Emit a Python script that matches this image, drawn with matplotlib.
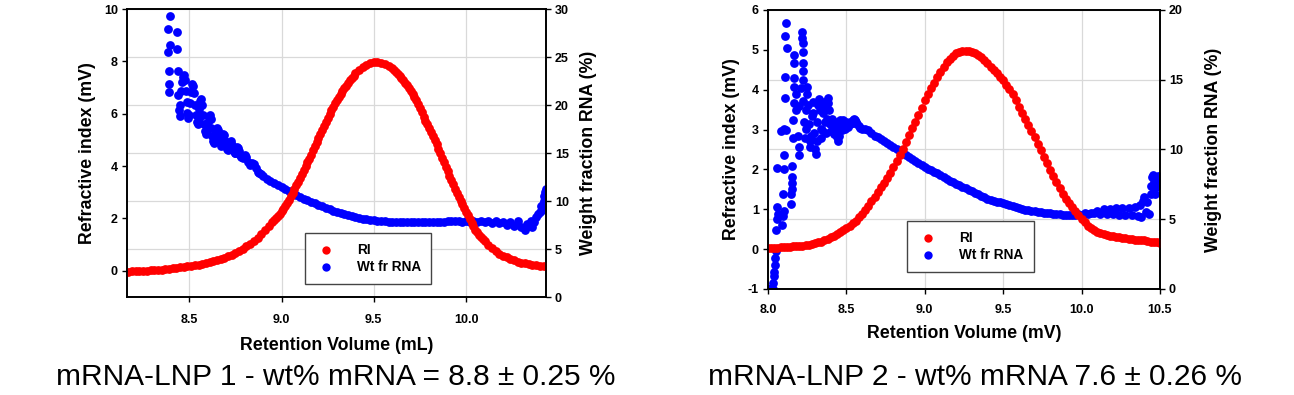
import matplotlib
matplotlib.use("Agg")
import matplotlib.pyplot as plt

plt.rcParams["font.family"] = ["Liberation Sans", "DejaVu Sans"]
plt.rcParams["font.weight"] = "bold"
plt.rcParams["axes.labelweight"] = "bold"
plt.rcParams["axes.unicode_minus"] = False

# =========================
# Data
# =========================
# mRNA-LNP 1, refractive index trace (mV) vs retention volume (mL)
lnp1_ri_vol = [
    8.17, 8.19, 8.21, 8.23, 8.25, 8.27, 8.29, 8.31, 8.33, 8.35,
    8.37, 8.39, 8.41, 8.43, 8.45, 8.47, 8.49, 8.51, 8.53, 8.55,
    8.57, 8.59, 8.61, 8.63, 8.65, 8.67, 8.69, 8.71, 8.73, 8.75,
    8.77, 8.79, 8.81, 8.83, 8.85, 8.87, 8.89, 8.91, 8.93, 8.95,
    8.96, 8.97, 8.98, 8.99, 9.00, 9.01, 9.02, 9.03, 9.04, 9.05,
    9.06, 9.07, 9.08, 9.09, 9.10, 9.11, 9.12, 9.13, 9.14, 9.15,
    9.16, 9.17, 9.18, 9.19, 9.20, 9.21, 9.22, 9.23, 9.24, 9.25,
    9.26, 9.27, 9.28, 9.29, 9.30, 9.31, 9.32, 9.33, 9.34, 9.35,
    9.36, 9.37, 9.38, 9.39, 9.40,
    9.42, 9.44, 9.46, 9.48, 9.50, 9.52, 9.54, 9.56, 9.58, 9.60,
    9.61, 9.62, 9.63, 9.64, 9.65, 9.66, 9.67, 9.68, 9.69, 9.70,
    9.71, 9.72, 9.73, 9.74, 9.75, 9.76, 9.77, 9.78, 9.79, 9.80,
    9.81, 9.82, 9.83, 9.84, 9.85, 9.86, 9.87, 9.88, 9.89, 9.90,
    9.91, 9.92, 9.93, 9.94, 9.95, 9.96, 9.97, 9.98, 9.99, 10.00,
    10.01, 10.02, 10.03, 10.04, 10.05, 10.06, 10.07, 10.08, 10.09, 10.10,
    10.12, 10.14, 10.16, 10.18, 10.20, 10.22, 10.24, 10.26, 10.28, 10.30,
    10.32, 10.34, 10.36, 10.38, 10.40, 10.42,
]
lnp1_ri_mv = [
    -0.03, -0.02, -0.01, 0.00, 0.00, 0.01, 0.02, 0.03, 0.04, 0.05,
    0.07, 0.08, 0.10, 0.11, 0.13, 0.15, 0.17, 0.19, 0.21, 0.24,
    0.27, 0.30, 0.33, 0.37, 0.41, 0.45, 0.50, 0.55, 0.61, 0.68,
    0.76, 0.84, 0.93, 1.03, 1.14, 1.27, 1.41, 1.56, 1.72, 1.88,
    1.95, 2.02, 2.10, 2.18, 2.27, 2.37, 2.48, 2.59, 2.71, 2.84,
    2.98, 3.12, 3.26, 3.40, 3.54, 3.69, 3.84, 3.99, 4.14, 4.29,
    4.44, 4.60, 4.76, 4.92, 5.07, 5.23, 5.38, 5.53, 5.68, 5.83,
    5.98, 6.13, 6.27, 6.40, 6.52, 6.63, 6.75, 6.86, 6.97, 7.07,
    7.17, 7.27, 7.37, 7.46, 7.54,
    7.67, 7.79, 7.88, 7.94, 7.97, 7.97, 7.95, 7.91, 7.84, 7.74,
    7.67, 7.60, 7.53, 7.45, 7.37, 7.29, 7.19, 7.08, 6.97, 6.86,
    6.76, 6.65, 6.51, 6.36, 6.20, 6.05, 5.89, 5.74, 5.59, 5.45,
    5.30, 5.15, 5.00, 4.83, 4.66, 4.49, 4.32, 4.15, 3.98, 3.81,
    3.64, 3.47, 3.30, 3.13, 2.96, 2.82, 2.68, 2.54, 2.40, 2.26,
    2.12, 1.98, 1.84, 1.70, 1.57, 1.47, 1.38, 1.30, 1.21, 1.13,
    0.99, 0.87, 0.76, 0.66, 0.58, 0.51, 0.45, 0.40, 0.35, 0.31,
    0.28, 0.25, 0.23, 0.21, 0.19, 0.17,
]

# mRNA-LNP 1, weight fraction RNA (%)
lnp1_wt_vol = [
    8.392, 8.392, 8.392, 8.386, 8.386, 8.398, 8.398, 8.435, 8.435, 8.437,
    8.440, 8.444, 8.448, 8.452, 8.456, 8.460, 8.465, 8.470, 8.475, 8.480,
    8.485, 8.490, 8.495, 8.500, 8.505, 8.510, 8.515, 8.520, 8.525, 8.530,
    8.535, 8.540, 8.545, 8.550, 8.555, 8.560, 8.565, 8.570, 8.575, 8.580,
    8.585, 8.590, 8.595, 8.600, 8.605, 8.610, 8.615, 8.620, 8.625, 8.630,
    8.635, 8.640, 8.645, 8.650, 8.655, 8.660, 8.665, 8.670, 8.675, 8.680,
    8.685, 8.690, 8.695, 8.700, 8.705, 8.710, 8.715, 8.720, 8.725, 8.730,
    8.735, 8.740, 8.745, 8.750, 8.755, 8.760, 8.765, 8.770, 8.775, 8.780,
    8.790, 8.800, 8.810, 8.820, 8.830, 8.840, 8.850, 8.860, 8.870, 8.880,
    8.890,
    8.90, 8.92, 8.94, 8.96, 8.98, 9.00, 9.02, 9.04, 9.06, 9.08,
    9.10, 9.12, 9.14, 9.16, 9.18, 9.20, 9.22, 9.24, 9.26, 9.28,
    9.30, 9.32, 9.34, 9.36, 9.38, 9.40, 9.42, 9.44, 9.46, 9.48,
    9.50, 9.52, 9.54, 9.56, 9.58, 9.60, 9.62, 9.64, 9.66, 9.68,
    9.70, 9.72, 9.74, 9.76, 9.78, 9.80, 9.82, 9.84, 9.86, 9.88,
    9.90, 9.92, 9.94, 9.96, 9.98, 10.00, 10.02, 10.04, 10.06, 10.08,
    10.10, 10.12, 10.14, 10.16, 10.18, 10.20, 10.22, 10.24, 10.26, 10.28,
    10.30, 10.32, 10.33, 10.34, 10.35, 10.36, 10.37, 10.38, 10.39, 10.40,
    10.405, 10.41, 10.415, 10.42, 10.425, 10.43, 10.432, 10.434, 10.436,
]
lnp1_wt_pct = [
    21.4, 22.2, 23.5, 25.5, 27.9, 26.2, 29.3, 27.6, 25.8, 23.5,
    21.0, 19.5, 18.9, 20.0, 21.5, 22.4, 22.9, 23.1, 22.6, 21.5,
    20.3, 19.2, 18.6, 19.0, 20.2, 21.4, 22.2, 22.0, 21.2, 20.0,
    19.0, 18.2, 18.0, 18.6, 19.6, 20.4, 20.6, 20.0, 19.0, 18.0,
    17.3, 17.0, 17.4, 18.2, 18.8, 19.0, 18.5, 17.6, 16.8, 16.2,
    16.0, 16.5, 17.2, 17.6, 17.4, 16.8, 16.1, 15.7, 15.9, 16.5,
    17.0, 16.9, 16.3, 15.7, 15.4, 15.3, 15.6, 16.1, 16.2, 15.8,
    15.4, 15.2, 15.0, 15.0, 15.3, 15.6, 15.5, 15.2, 14.8, 14.6,
    14.5, 14.8, 14.6, 14.1, 13.8, 14.0, 13.9, 13.4, 13.0, 12.9,
    12.8,
    12.6, 12.3, 12.1, 11.9, 11.7, 11.5, 11.2, 11.0, 10.8, 10.6,
    10.4, 10.25, 10.1, 9.9, 9.75, 9.6, 9.45, 9.3, 9.15, 9.0,
    8.88, 8.75, 8.63, 8.52, 8.42, 8.33, 8.25, 8.17, 8.10, 8.04,
    7.99, 7.95, 7.92, 7.89, 7.86, 7.84, 7.82, 7.80, 7.79, 7.78,
    7.77, 7.77, 7.77, 7.78, 7.79, 7.80, 7.81, 7.82, 7.84, 7.86,
    7.88, 7.89, 7.88, 7.90, 7.86, 7.90, 7.84, 7.92, 7.82, 7.94,
    7.80, 7.90, 7.75, 7.95, 7.70, 7.85, 7.55, 7.80, 7.40, 7.90,
    7.30, 7.00, 7.60, 7.40, 7.90, 7.30, 7.80, 8.30, 8.60, 8.90,
    9.5, 9.1, 9.7, 10.0, 10.5, 10.9, 11.2, 10.2, 9.6,
]

# mRNA-LNP 2, refractive index trace (mV)
lnp2_ri_vol = [
    8.00, 8.02, 8.04, 8.06, 8.08, 8.10, 8.12, 8.14, 8.16, 8.18,
    8.20, 8.22, 8.24, 8.26, 8.28, 8.30, 8.32, 8.34, 8.36, 8.38,
    8.40, 8.42, 8.44, 8.46, 8.48, 8.50,
    8.52, 8.54, 8.56, 8.58, 8.60, 8.62, 8.64, 8.66, 8.68, 8.70,
    8.72, 8.74, 8.76, 8.78, 8.80, 8.82, 8.84, 8.86, 8.88, 8.90,
    8.92, 8.94, 8.96, 8.98, 9.00,
    9.02, 9.04, 9.06, 9.08, 9.10, 9.12, 9.14, 9.16, 9.18, 9.20,
    9.22, 9.24, 9.26, 9.28, 9.30, 9.32, 9.34, 9.36, 9.38, 9.40,
    9.42, 9.44, 9.46, 9.48, 9.50,
    9.52, 9.54, 9.56, 9.58, 9.60, 9.62, 9.64, 9.66, 9.68, 9.70,
    9.72, 9.74, 9.76, 9.78, 9.80, 9.82, 9.84, 9.86, 9.88, 9.90,
    9.92, 9.94, 9.96, 9.98, 10.00,
    10.02, 10.04, 10.06, 10.08, 10.10, 10.12, 10.14, 10.16, 10.18, 10.20,
    10.22, 10.24, 10.26, 10.28, 10.30, 10.32, 10.34, 10.36, 10.38, 10.40,
    10.42, 10.44, 10.46, 10.48, 10.50,
]
lnp2_ri_mv = [
    0.03, 0.03, 0.04, 0.04, 0.05, 0.05, 0.06, 0.06, 0.07, 0.07,
    0.08, 0.09, 0.10, 0.11, 0.13, 0.15, 0.17, 0.19, 0.22, 0.26,
    0.30, 0.34, 0.38, 0.43, 0.48, 0.54,
    0.59, 0.65, 0.71, 0.80, 0.89, 0.99, 1.09, 1.20, 1.31, 1.43,
    1.55, 1.67, 1.79, 1.92, 2.06, 2.21, 2.36, 2.52, 2.69, 2.86,
    3.03, 3.20, 3.37, 3.55, 3.74,
    3.89, 4.04, 4.18, 4.32, 4.45, 4.57, 4.69, 4.78, 4.85, 4.91,
    4.95, 4.97, 4.98, 4.97, 4.95, 4.91, 4.86, 4.81, 4.74, 4.66,
    4.58, 4.49, 4.41, 4.33, 4.24,
    4.12, 4.01, 3.89, 3.74, 3.57, 3.42, 3.27, 3.12, 2.97, 2.82,
    2.65, 2.48, 2.32, 2.15, 1.98, 1.83, 1.68, 1.53, 1.39, 1.26,
    1.16, 1.06, 0.96, 0.86, 0.76,
    0.67, 0.59, 0.52, 0.47, 0.43, 0.40, 0.38, 0.36, 0.34, 0.32,
    0.31, 0.30, 0.28, 0.27, 0.26, 0.25, 0.24, 0.23, 0.22, 0.22,
    0.21, 0.19, 0.18, 0.17, 0.16,
]

# mRNA-LNP 2, weight fraction RNA (%)
lnp2_wt_vol = [
    8.000, 8.010, 8.020, 8.030, 8.034, 8.038, 8.040, 8.042, 8.045, 8.048,
    8.053, 8.057, 8.057, 8.060, 8.062, 8.084, 8.090, 8.095, 8.095, 8.099,
    8.101, 8.103, 8.105, 8.107, 8.107, 8.111, 8.116, 8.116, 8.124, 8.147,
    8.147, 8.150, 8.153, 8.153, 8.153, 8.158, 8.158, 8.164, 8.164, 8.164,
    8.168, 8.168, 8.179, 8.179, 8.189, 8.195, 8.195, 8.200, 8.210, 8.214,
    8.214, 8.221, 8.221, 8.221, 8.221, 8.221, 8.252,
    8.225, 8.230, 8.235, 8.240, 8.245, 8.250, 8.255, 8.260, 8.265, 8.270,
    8.275, 8.280, 8.285, 8.290, 8.295, 8.300, 8.305, 8.310, 8.315, 8.320,
    8.325, 8.330, 8.335, 8.340, 8.345, 8.350, 8.355, 8.360, 8.365, 8.370,
    8.375, 8.380, 8.385, 8.390, 8.395, 8.400, 8.405, 8.410, 8.415, 8.420,
    8.425, 8.430, 8.435, 8.440, 8.445, 8.450, 8.455, 8.460, 8.465, 8.470,
    8.475, 8.480, 8.485, 8.490, 8.495, 8.500, 8.505, 8.510, 8.515, 8.520,
    8.525, 8.530, 8.535, 8.540, 8.545, 8.550, 8.555, 8.560, 8.570, 8.580,
    8.590, 8.600,
    8.62, 8.64, 8.66, 8.68, 8.70, 8.72, 8.74, 8.76, 8.78, 8.80,
    8.82, 8.84, 8.86, 8.88, 8.90, 8.92, 8.94, 8.96, 8.98, 9.00,
    9.02, 9.04, 9.06, 9.08, 9.10, 9.12, 9.14, 9.16, 9.18, 9.20,
    9.22, 9.24, 9.26, 9.28, 9.30, 9.32, 9.34, 9.36, 9.38, 9.40,
    9.42, 9.44, 9.46, 9.48, 9.50, 9.52, 9.54, 9.56, 9.58, 9.60,
    9.62, 9.64, 9.66, 9.68, 9.70, 9.72, 9.74, 9.76, 9.78, 9.80,
    9.82, 9.84, 9.86, 9.88, 9.90, 9.92, 9.94, 9.96, 9.98, 10.00,
    10.02, 10.04, 10.06, 10.08,
    10.10, 10.12, 10.14, 10.16, 10.18, 10.20, 10.22, 10.24, 10.26, 10.28,
    10.30, 10.32, 10.34, 10.36, 10.37, 10.38, 10.39, 10.40, 10.41, 10.42,
    10.43, 10.44, 10.445, 10.45, 10.455, 10.46, 10.465, 10.47, 10.475, 10.48,
    10.485, 10.49, 10.495, 10.50,
]
lnp2_wt_pct = [
    0.0, 0.0, 0.0, 0.0, 0.4, 0.9, 1.2, 1.7, 2.2, 2.7,
    4.2, 5.9, 8.7, 5.0, 5.4, 11.3, 4.6, 5.2, 6.8, 5.6,
    8.6, 9.6, 11.5, 13.7, 15.2, 18.1, 19.1, 11.4, 17.3, 6.1,
    6.8, 7.2, 7.6, 8.0, 8.8, 10.8, 12.1, 15.1, 16.2, 16.8,
    14.5, 13.3, 14.0, 12.8, 11.0, 10.2, 9.6, 13.1, 14.4, 18.0,
    18.4, 17.6, 17.0, 16.2, 15.6, 15.0, 14.5,
    13.5, 12.0, 10.8, 11.5, 12.8, 14.0, 13.2, 11.8, 10.6, 10.2,
    11.0, 12.4, 13.4, 12.6, 11.2, 10.0, 9.7, 10.6, 12.0, 13.2,
    13.6, 12.8, 11.5, 10.8, 11.4, 12.6, 13.4, 13.0, 12.0, 11.2,
    12.2, 13.3, 13.7, 12.8, 11.8, 11.3, 11.9, 12.2, 11.6, 11.1,
    11.6, 12.0, 11.4, 10.9, 10.6, 11.0, 11.8, 12.1, 11.6, 11.4,
    11.8, 12.1, 11.7, 11.5, 11.9, 12.0, 11.7, 11.6, 11.9, 12.0,
    11.8, 11.9, 12.0, 11.9, 12.1, 12.2, 12.1, 12.0, 11.8, 11.7,
    11.55, 11.45,
    11.5, 11.38, 11.2, 11.0, 10.88, 10.75, 10.62, 10.5, 10.35, 10.2,
    10.0, 9.87, 9.72, 9.57, 9.43, 9.3, 9.15, 9.02, 8.89, 8.76,
    8.63, 8.52, 8.4, 8.28, 8.17, 8.04, 7.9, 7.77, 7.66, 7.55,
    7.43, 7.33, 7.22, 7.11, 7.01, 6.9, 6.78, 6.68, 6.58, 6.48,
    6.4, 6.33, 6.27, 6.2, 6.14, 6.07, 6.0, 5.93, 5.87, 5.8,
    5.74, 5.69, 5.64, 5.6, 5.56, 5.52, 5.49, 5.46, 5.44, 5.42,
    5.4, 5.38, 5.35, 5.32, 5.3, 5.29, 5.3, 5.29, 5.35, 5.33,
    5.42, 5.38, 5.48, 5.42,
    5.62, 5.40, 5.70, 5.38, 5.72, 5.35, 5.78, 5.32, 5.80, 5.30,
    5.82, 5.28, 5.90, 5.25, 6.0, 5.15, 6.3, 6.6, 5.5, 6.2,
    5.4, 6.8, 7.4, 8.0, 8.2, 7.7, 7.2, 6.8, 7.3, 7.9,
    8.1, 7.5, 7.8, 8.0,
]

captions = [
    "mRNA-LNP 1 - wt% mRNA = 8.8 \u00b1 0.25 %",
    "mRNA-LNP 2 - wt% mRNA 7.6 \u00b1 0.26 %",
]

RED = "#ff0000"
BLUE = "#0000ff"
GRID = "#d9d9d9"
DOT = 40


def draw_panel(fig, rect, ri_vol, ri_mv, wt_vol, wt_pct, xlim, xticks,
               ylim_left, yticks_left, ylim_right, yticks_right,
               xlabel, legend_anchor, pads):
    tick_pad, xlabel_pad, right_label_pad = pads
    ax = fig.add_axes(rect)
    ax2 = ax.twinx()
    # RI axis on top, weight-fraction axis (with the grid) underneath
    ax.set_zorder(ax2.get_zorder() + 1)
    ax.patch.set_visible(False)
    ax2.patch.set_visible(True)
    ax2.patch.set_facecolor("white")

    ax2.scatter(wt_vol, wt_pct, s=DOT, color=BLUE, linewidths=0, label="Wt fr RNA")
    ax.scatter(ri_vol, ri_mv, s=DOT, color=RED, linewidths=0, label="RI")

    ax.set_xlim(*xlim)
    ax.set_xticks(xticks)
    ax.set_xticklabels([f"{t:.1f}" for t in xticks])
    ax.set_ylim(*ylim_left)
    ax.set_yticks(yticks_left)
    ax2.set_ylim(*ylim_right)
    ax2.set_yticks(yticks_right)

    ax2.xaxis.set_visible(True)
    ax2.tick_params(axis="x", bottom=False, top=False, labelbottom=False)
    ax2.grid(True, color=GRID, linewidth=0.9)
    ax2.set_axisbelow(True)

    for a in (ax, ax2):
        a.tick_params(direction="out", length=3.5, width=1.0, labelsize=9, pad=3)
        for sp in a.spines.values():
            sp.set_linewidth(1.2)
            sp.set_color("black")
    ax.tick_params(axis="x", pad=tick_pad)

    ax.set_xlabel(xlabel, fontsize=12.8, labelpad=xlabel_pad)
    ax.set_ylabel("Refractive index (mV)", fontsize=12.8, labelpad=6)
    ax2.set_ylabel("Weight fraction RNA (%)", fontsize=12.8, rotation=90,
                   labelpad=right_label_pad)

    h1, l1 = ax.get_legend_handles_labels()
    h2, l2 = ax2.get_legend_handles_labels()
    leg = ax.legend(h1 + h2, l1 + l2, loc="lower left", bbox_to_anchor=legend_anchor,
                    borderaxespad=0, fancybox=False, framealpha=1, edgecolor="#444444",
                    prop={"size": 9.8, "weight": "bold"}, handletextpad=1.5,
                    labelspacing=0.2, borderpad=0.75, markerscale=0.95,
                    handlelength=1.6)
    leg.get_frame().set_linewidth(1.0)
    return ax, ax2


def main():
    fig = plt.figure(figsize=(12.94, 3.95), dpi=100)

    draw_panel(fig, [0.0981, 0.2481, 0.3238, 0.7291],
               lnp1_ri_vol, lnp1_ri_mv, lnp1_wt_vol, lnp1_wt_pct,
               (8.162, 10.433), [8.5, 9.0, 9.5, 10.0],
               (-1, 10), [0, 2, 4, 6, 8, 10],
               (0, 30), [0, 5, 10, 15, 20, 25, 30],
               "Retention Volume (mL)", (0.424, 0.046), (9, 8, 8))

    draw_panel(fig, [0.5935, 0.2684, 0.3029, 0.7063],
               lnp2_ri_vol, lnp2_ri_mv, lnp2_wt_vol, lnp2_wt_pct,
               (8.0, 10.5), [8.0, 8.5, 9.0, 9.5, 10.0, 10.5],
               (-1, 6), [-1, 0, 1, 2, 3, 4, 5, 6],
               (0, 20), [0, 5, 10, 15, 20],
               "Retention Volume (mV)", (0.354, 0.061), (7, 7, 16))

    fig.text(336 / 1294, 1 - 377 / 395, captions[0], fontsize=21.5,
             fontweight="normal", ha="center", va="center")
    fig.text(975 / 1294, 1 - 377 / 395, captions[1], fontsize=21.5,
             fontweight="normal", ha="center", va="center")

    fig.savefig("out.png", dpi=100)


if __name__ == "__main__":
    main()
